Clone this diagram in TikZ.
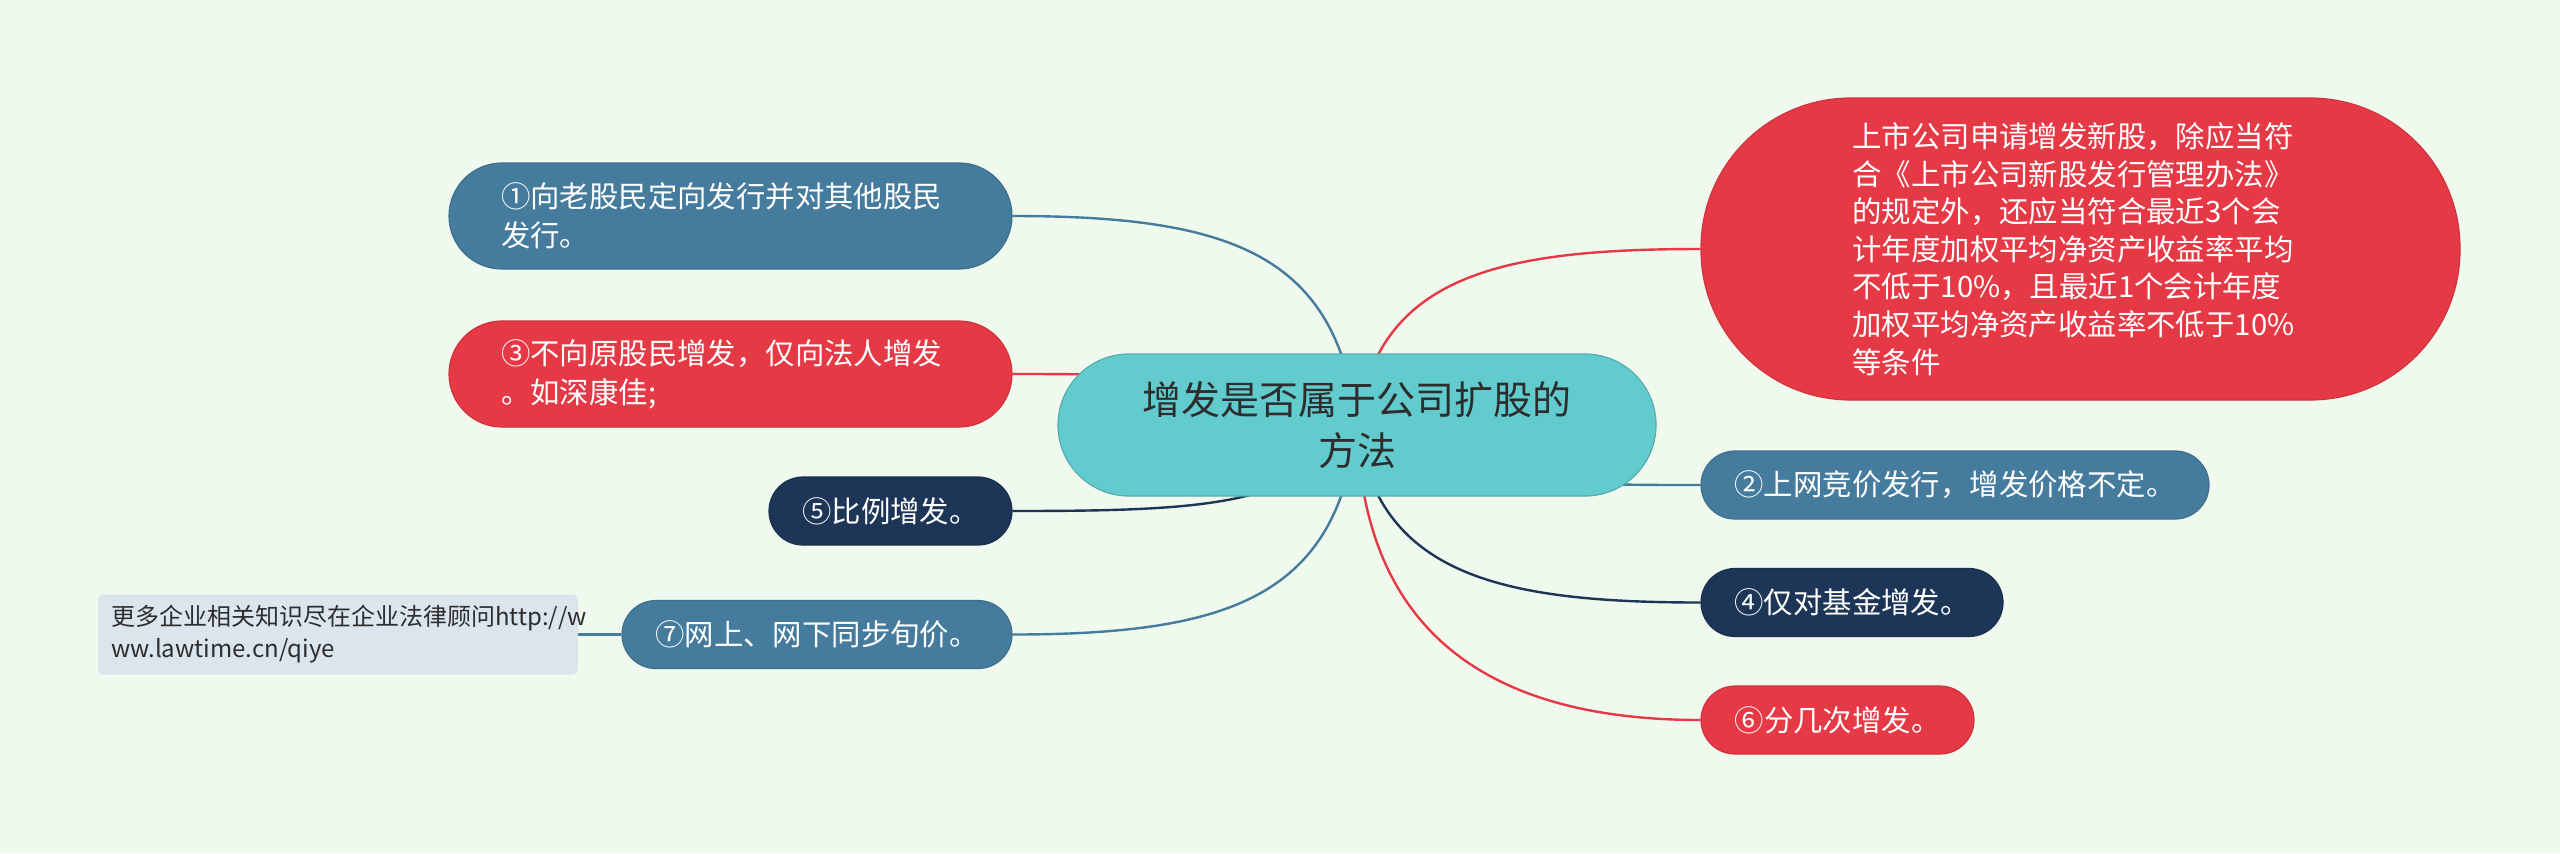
\documentclass[tikz,border=0pt]{standalone}
\usepackage{fontspec}
\setmainfont{Noto Sans CJK SC}
\usetikzlibrary{backgrounds}
\definecolor{mapbg}{HTML}{F0F9EE}
\definecolor{mapteal}{HTML}{62CBCE}
\definecolor{mapred}{HTML}{E63946}
\definecolor{mapblue}{HTML}{457B9D}
\definecolor{mapnavy}{HTML}{1D3557}
\definecolor{mapnote}{HTML}{DBE5ED}
\definecolor{maptext}{HTML}{2D2D2D}

\begin{document}
\begin{tikzpicture}[x=0.5pt, y=-0.5pt,
    topic/.style={fill=mapteal, draw=mapteal!85!black, line width=0.6pt, rounded corners=35.5pt,
      minimum width=299pt, minimum height=71pt, text width=220pt, align=center, text=maptext,
      font=\fontsize{19.5}{25.3}\selectfont},
    twoline/.style={fill=#1, draw=#1!90!black, line width=0.6pt, rounded corners=26.5pt,
      minimum width=281.5pt, minimum height=53pt, text width=229.5pt, align=left, text=white,
      font=\fontsize{14.7}{19.5}\selectfont},
    pill/.style={fill=#1, draw=#1!90!black, line width=0.6pt, rounded corners=17pt,
      minimum height=34pt, inner xsep=0pt, text=white, font=\fontsize{14.7}{19.5}\selectfont},
    notebox/.style={fill=mapnote, rounded corners=3pt, minimum width=240pt, minimum height=40pt,
      text width=227pt, align=left, text=maptext, font=\fontsize{12}{16}\selectfont},
    link/.style={draw=#1, line width=1.2pt}]
  \useasboundingbox (0,0) rectangle (2560,853);

  % centre
  \node[topic] (ctr) at (1357,425) {增发是否属于公司扩股的\\方法};

  % left side
  \node[twoline=mapblue] (n1) at (730.5,216) {①向老股民定向发行并对其他股民\\发行。};
  \node[twoline=mapred] (n3) at (730.5,374) {③不向原股民增发，仅向法人增发\\。如深康佳;};
  \node[pill=mapnavy, minimum width=121.5pt] (n5) at (890.5,511) {⑤比例增发。};
  \node[pill=mapblue, minimum width=195pt] (n7) at (817,634.5) {⑦网上、网下同步旬价。};
  \node[notebox] (note) at (338,634.5) {更多企业相关知识尽在企业法律顾问http://w\\ww.lawtime.cn/qiye};

  % right side
  \node[twoline=mapred, rounded corners=75pt, minimum width=379.5pt, minimum height=151pt,
    text width=228pt, font=\fontsize{14.7}{18.8}\selectfont] (big) at (2080.5,249)
    {上市公司申请增发新股，除应当符\\合《上市公司新股发行管理办法》\\的规定外，还应当符合最近3个会\\计年度加权平均净资产收益率平均\\不低于10\%，且最近1个会计年度\\加权平均净资产收益率不低于10\%\\等条件};
  \node[pill=mapblue, minimum width=254pt] (n2) at (1955,485) {②上网竞价发行，增发价格不定。};
  \node[pill=mapnavy, minimum width=151pt] (n4) at (1852,602.5) {④仅对基金增发。};
  \node[pill=mapred, minimum width=136.5pt] (n6) at (1837.5,720) {⑥分几次增发。};

  \begin{pgfonlayer}{background}
    \fill[mapbg] (0,0) rectangle (2560,853);
    \draw[link=mapblue] (ctr.center) .. controls +(-20,-170) and +(220,0) .. (n1.east);
    \draw[link=mapred] (ctr.center) .. controls +(-150,-50) and +(150,0) .. (n3.east);
    \draw[link=mapnavy] (ctr.center) .. controls +(-60,80) and +(200,0) .. (n5.east);
    \draw[link=mapblue] (ctr.center) .. controls +(-20,170) and +(220,0) .. (n7.east);
    \draw[link=mapblue] (n7.west) -- (note.east);
    \draw[link=mapred] (ctr.center) .. controls +(20,-150) and +(-200,0) .. (big.west);
    \draw[link=mapblue] (ctr.center) .. controls +(150,60) and +(-150,0) .. (n2.west);
    \draw[link=mapnavy] (ctr.center) .. controls +(20,150) and +(-200,0) .. (n4.west);
    \draw[link=mapred] (ctr.center) .. controls +(5,200) and +(-220,0) .. (n6.west);
  \end{pgfonlayer}
\end{tikzpicture}
\end{document}
